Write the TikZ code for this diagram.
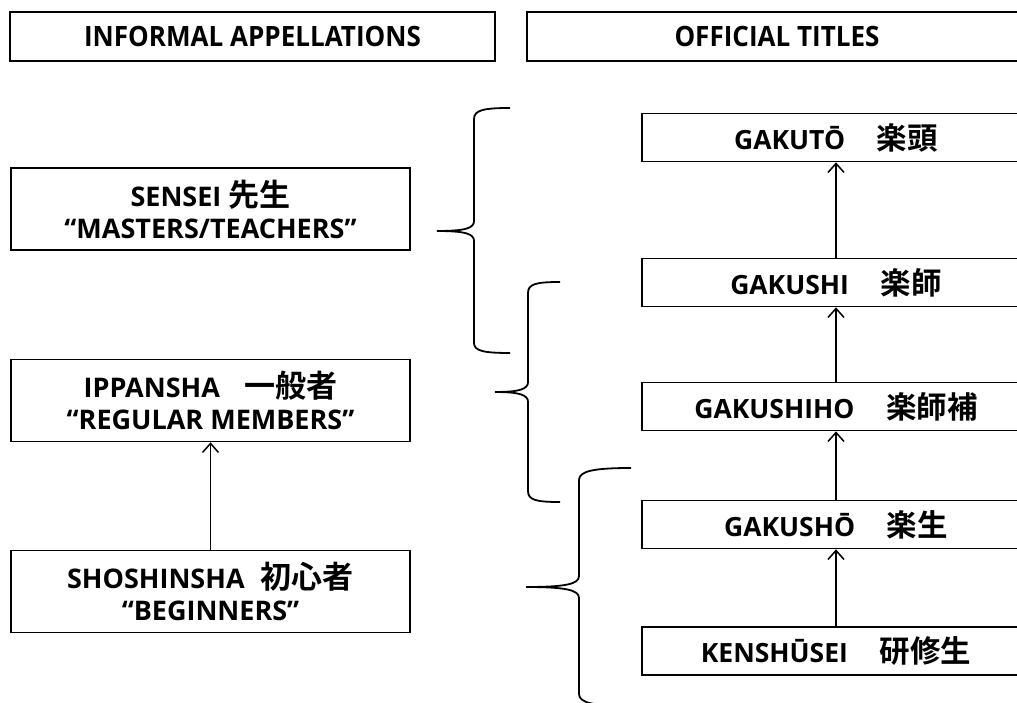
\documentclass[tikz,border=0pt]{standalone}
\usepackage{fontspec}
\setmainfont{Open Sans}
\newfontfamily\cjkfont{Noto Sans CJK JP}[Scale=1.15,BoldFont={Noto Sans CJK JP Bold}]
\usetikzlibrary{arrows.meta}
\newcommand{\jp}[1]{{\cjkfont\bfseries #1}}
\newcommand{\hdr}[1]{\scalebox{0.93}[1]{#1}}
\tikzset{
  box/.style={draw, line width=1.7pt, inner sep=0pt, align=center,
    font=\fontsize{26.5}{32}\selectfont\bfseries},
  lbox/.style={box, minimum width=399pt, minimum height=82pt,
    font=\fontsize{27}{32}\selectfont\bfseries},
  rbox/.style={box, minimum width=388pt, minimum height=48pt},
  hbox/.style={box, minimum height=49pt, font=\fontsize{28}{32}\selectfont\bfseries},
  arr/.style={line width=1.6pt, -{Straight Barb[length=9pt,width=16pt,line width=1.5pt]}},
  brace/.style={line width=1.8pt}
}
\begin{document}
\begin{tikzpicture}[x=1pt,y=-1pt]
\useasboundingbox (0,0) rectangle (1017,703);
\fill[white] (0,0) rectangle (1017,703);
\begin{scope}
\clip (0,0) rectangle (1017,703);
% headers
\node[hbox, minimum width=485pt] (hinf) at (252.5,36.5) {\hdr{INFORMAL APPELLATIONS}};
\node[hbox, minimum width=500pt] (hoff) at (777,36.5) {\hdr{OFFICIAL TITLES}};
% left column
\node[lbox] (sensei) at (210.5,209) {SENSEI \jp{先生}\\“MASTERS/TEACHERS”};
\node[lbox] (ippan) at (210.5,400.5) {IPPANSHA\hspace{0.9em}\jp{一般者}\\“REGULAR MEMBERS”};
\node[lbox] (shoshin) at (210.5,591.5) {SHOSHINSHA\hspace{0.6em}\jp{初心者}\\“BEGINNERS”};
% right column
\node[rbox] (gakuto) at (836,137.5) {GAKUTŌ\hspace{1.2em}\jp{楽頭}};
\node[rbox] (gakushi) at (836,282.5) {GAKUSHI\hspace{1.2em}\jp{楽師}};
\node[rbox] (gakushiho) at (836,406.5) {GAKUSHIHO\hspace{1.2em}\jp{楽師補}};
\node[rbox] (gakusho) at (836,524.5) {GAKUSHŌ\hspace{1.2em}\jp{楽生}};
\node[rbox] (kenshu) at (836,651) {KENSHŪSEI\hspace{1.2em}\jp{研修生}};
% arrows
\draw[arr] (shoshin.north) -- (ippan.south);
\draw[arr] (kenshu.north) -- (gakusho.south);
\draw[arr] (gakusho.north) -- (gakushiho.south);
\draw[arr] (gakushiho.north) -- (gakushi.south);
\draw[arr] (gakushi.north) -- (gakuto.south);
% braces
\draw[brace] (510,108) .. controls (484,108) and (474,110) .. (474,119)
  -- (474,221) .. controls (474,228) and (466,231) .. (437,231)
  .. controls (466,231) and (474,234) .. (474,241)
  -- (474,343) .. controls (474,351) and (484,353) .. (510,353);
\draw[brace] (560,282) .. controls (536,282) and (528,284) .. (528,293)
  -- (528,382) .. controls (528,389) and (520,392) .. (495,392)
  .. controls (520,392) and (528,395) .. (528,402)
  -- (528,491) .. controls (528,500) and (536,502) .. (560,502);
\draw[brace] (631,468) .. controls (594,468) and (579,471) .. (579,480)
  -- (579,576) .. controls (579,584) and (566,587) .. (526,587)
  .. controls (566,587) and (579,590) .. (579,598)
  -- (579,694) .. controls (579,703) and (594,706) .. (631,706);
\end{scope}
\end{tikzpicture}
\end{document}
